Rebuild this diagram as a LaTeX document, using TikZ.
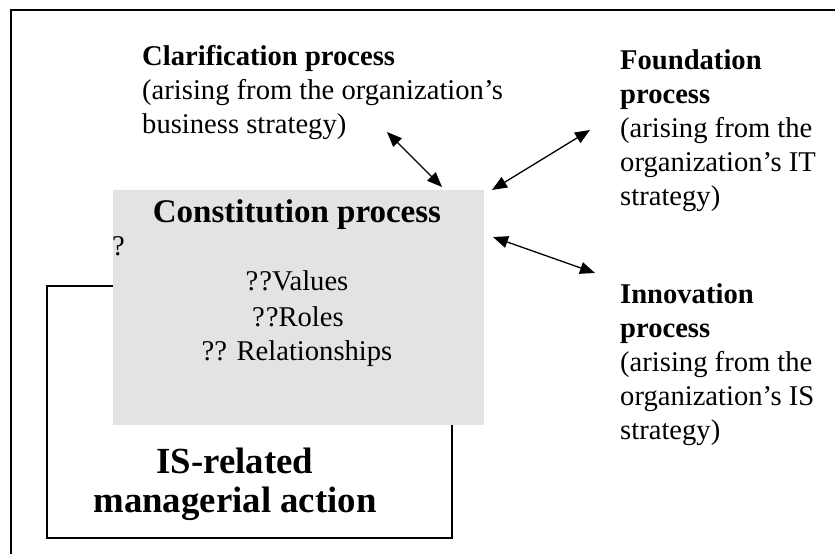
\documentclass[tikz,border=0pt]{standalone}
\usepackage{fontspec}
\setmainfont{Liberation Serif}
\usetikzlibrary{arrows.meta}
\definecolor{panel}{HTML}{E3E3E3}
\begin{document}
\begin{tikzpicture}[x=1pt,y=-1pt,
  frame/.style={line width=1.6pt, draw=black},
  body/.style={font=\fontsize{28.6}{34}\selectfont, inner sep=0pt, align=left},
  link/.style={{Triangle[length=15pt,width=12pt]}-{Triangle[length=15pt,width=12pt]}, line width=1.3pt},
]
\useasboundingbox (0,0) rectangle (835,554);
\fill[white] (0,0) rectangle (835,554);

% outer frame: only its top and left sides fall on the page
\draw[frame] (835,10) -- (11,10) -- (11,554);

% box of managerial action, partly covered by the constitution panel
% (a multi-line node's base anchor sits on its last line)
\draw[frame] (47,286) rectangle (452,538);
\node[anchor=base, inner sep=0pt, align=center,
      font=\fontsize{36.8}{39}\selectfont\bfseries] (isrel) at (235,512)
  {IS-related\\managerial action};

% constitution panel
\node[fill=panel, anchor=north west, inner sep=0pt,
      minimum width=371pt, minimum height=235pt] (panel) at (113,190) {};
\node[anchor=base, inner sep=0pt, font=\fontsize{33}{38}\selectfont\bfseries]
  (consttitle) at (297,222) {Constitution process};
\node[anchor=base west, body] (qmark) at (112,255) {?};
\node[anchor=base, body] (values) at (297,290) {?\kern1pt?Values};
\node[anchor=base, body] (roles) at (298,326) {?\kern1pt?Roles};
\node[anchor=base, body] (rels) at (297,360) {?? Relationships};

% the three surrounding processes
\node[anchor=base west, body] (clar) at (142,133)
  {\textbf{Clarification process}\\(arising from the organization’s\\business strategy)};
\node[anchor=base west, body] (found) at (620,205)
  {\textbf{Foundation}\\\textbf{process}\\(arising from the\\organization’s IT\\strategy)};
\node[anchor=base west, body] (innov) at (620,439)
  {\textbf{Innovation}\\\textbf{process}\\(arising from the\\organization’s IS\\strategy)};

% arrow ends
\coordinate (c1) at (387,132);
\coordinate (p1) at (442,187);
\coordinate (f1) at (590,130);
\coordinate (p2) at (492,190);
\coordinate (p3) at (493,237);
\coordinate (i1) at (595,273);

\draw[link] (c1) -- (p1);
\draw[link] (f1) -- (p2);
\draw[link] (p3) -- (i1);
\end{tikzpicture}
\end{document}
